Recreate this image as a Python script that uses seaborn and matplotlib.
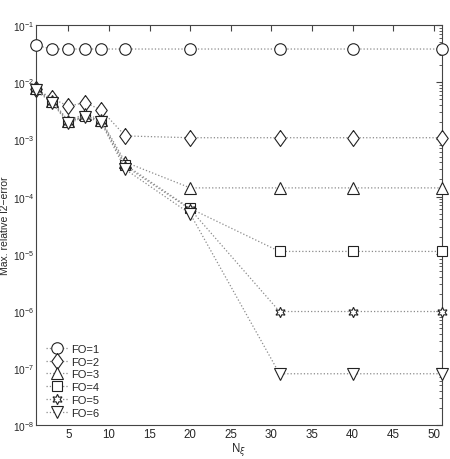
import numpy as np
import pandas as pd
import matplotlib
matplotlib.use("Agg")
import matplotlib.pyplot as plt
import seaborn as sns

# dados
n_xi = [1, 3, 5, 7, 9, 12, 20, 31, 40, 51]
fo1 = [0.044, 0.038, 0.038, 0.038, 0.038, 0.038, 0.038, 0.038, 0.038, 0.038]
fo2 = [0.0076, 0.0052, 0.0038, 0.0044, 0.0033, 0.00115, 0.00107, 0.00107, 0.00107, 0.00107]
fo3 = [0.0078, 0.0047, 0.0021, 0.0028, 0.0022, 4.0e-4, 1.42e-4, 1.42e-4, 1.42e-4, 1.42e-4]
fo4 = [0.0075, 0.0045, 0.0020, 0.0026, 0.0021, 3.6e-4, 6.2e-5, 1.1e-5, 1.1e-5, 1.1e-5]
fo5 = [0.0075, 0.0045, 0.0020, 0.0026, 0.0021, 3.4e-4, 6.0e-5, 9.8e-7, 9.8e-7, 9.8e-7]
fo6 = [0.0072, 0.0043, 0.0019, 0.0025, 0.0020, 3.0e-4, 5.0e-5, 8.0e-8, 8.0e-8, 8.0e-8]
labels = ['FO=1', 'FO=2', 'FO=3', 'FO=4', 'FO=5', 'FO=6']

sns.set_style("white")
plt.rcParams['font.family'] = ['Liberation Sans', 'DejaVu Sans']
plt.rcParams['mathtext.fontset'] = 'dejavusans'

diamond = [(0, 1), (0.72, 0), (0, -1), (-0.72, 0), (0, 1)]
markers = ['o', diamond, '^', 's', (6, 1, 0), 'v']
sizes = [8.3, 11.5, 9, 6.5, 7.5, 9]
series = [fo1, fo2, fo3, fo4, fo5, fo6]

fig = plt.figure(figsize=(4.5, 4.6), dpi=100)
ax = fig.add_axes([0.08, 0.073, 0.902, 0.8705])

for vals, lab, mk, ms in zip(series, labels, markers, sizes):
    df = pd.DataFrame({'N': n_xi, 'err': vals})
    sns.lineplot(data=df, x='N', y='err', ax=ax, label=lab, color='#8a8a8a',
                 linestyle=':', linewidth=0.9, marker=mk, markersize=ms,
                 markerfacecolor='white', markeredgecolor='#222222',
                 markeredgewidth=0.8, clip_on=False, zorder=3)

ax.set_yscale('log')
ax.set_ylim(1e-8, 1e-1)
ax.set_xlim(1, 51)
ax.set_xticks([5, 10, 15, 20, 25, 30, 35, 40, 45, 50])
ax.set_yticks([10.0**k for k in range(-8, 0)])

for s in ax.spines.values():
    s.set_color('#444444')
    s.set_linewidth(0.8)
ax.tick_params(which='both', direction='in', top=True, right=True,
               color='#444444')
ax.tick_params(axis='x', labelsize=8.3, pad=2)
ax.tick_params(axis='y', labelsize=7.3, pad=1.5)
ax.tick_params(which='major', length=4)
ax.tick_params(which='minor', length=2)
ax.tick_params(axis='x', which='minor', bottom=False, top=False)

ax.set_xlabel(r'N$_\xi$', fontsize=8.3, labelpad=0)
ax.set_ylabel('Max. relative l2\u2212error', fontsize=7.5)
ax.yaxis.set_label_coords(-0.064, 0.5)

leg = ax.legend(loc='lower left', frameon=False, fontsize=8,
                handlelength=2.0, labelspacing=0.25, handletextpad=0.3,
                borderaxespad=0.3, bbox_to_anchor=(0.005, 0.0))

fig.savefig('out.png', dpi=100)
